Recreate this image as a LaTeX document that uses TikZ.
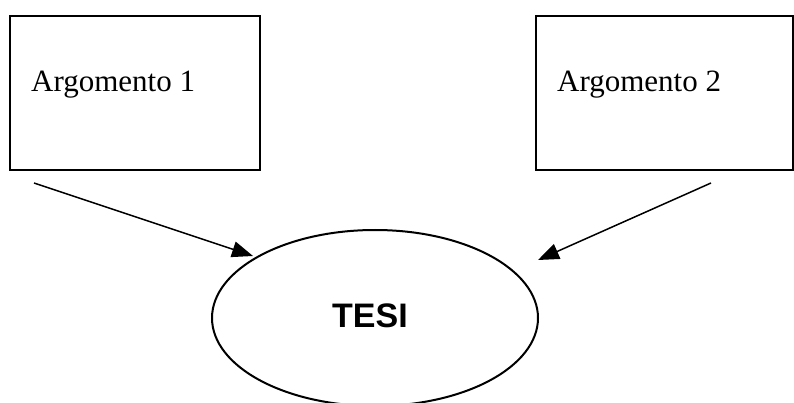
\documentclass[tikz,border=0pt]{standalone}
\usepackage{fontspec}
\setmainfont{Liberation Serif}
\newfontfamily\headsans{Liberation Sans}
\usetikzlibrary{arrows.meta,shapes.geometric}
\tikzset{
  argbox/.style={draw, line width=2pt, rectangle, inner sep=0pt},
  argtext/.style={anchor=base west, inner sep=0pt, font=\fontsize{31}{36}\selectfont},
  tesinode/.style={draw, line width=2pt, ellipse, inner sep=0pt, minimum width=326pt, minimum height=176pt},
  tesitext/.style={inner sep=0pt, font=\headsans\bfseries\fontsize{34}{40}\selectfont},
  linkarrow/.style={line width=1.5pt, -{Triangle[length=21pt, width=16pt]}}
}
\begin{document}
\begin{tikzpicture}[x=1pt, y=-1pt]
\useasboundingbox (0,0) rectangle (794,403);
\clip (0,0) rectangle (794,403);
\node[argbox, minimum width=250pt, minimum height=154pt] (box1) at (135,93) {};
\node[argbox, minimum width=257pt, minimum height=154pt] (box2) at (664.5,93) {};
\node[argtext] (t1) at (31,92) {Argomento 1};
\node[argtext] (t2) at (557,92) {Argomento 2};
\node[tesinode] (tesi) at (375,318) {};
\node[tesitext] (tesilabel) at (370,316) {TESI};
\coordinate (s1) at (34,183);
\coordinate (e1) at (253,256);
\coordinate (s2) at (711,183);
\coordinate (e2) at (538,260);
\draw[linkarrow] (s1) -- (e1);
\draw[linkarrow] (s2) -- (e2);
\end{tikzpicture}
\end{document}
